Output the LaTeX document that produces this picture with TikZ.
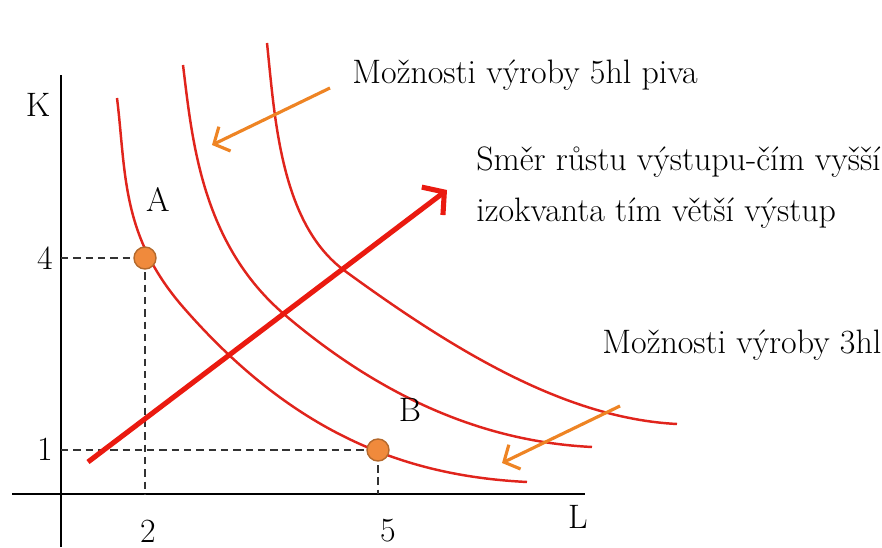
\documentclass[tikz,border=0pt]{standalone}
\usepackage{fontspec}
\usetikzlibrary{arrows.meta}
\definecolor{curvered}{HTML}{E0241C}
\definecolor{growred}{HTML}{EA1A10}
\definecolor{pointcol}{HTML}{EE8424}
\definecolor{dotfill}{HTML}{F08A3C}
\definecolor{dotedge}{HTML}{B4692C}

\begin{document}
\begin{tikzpicture}[x=1cm,y=1cm,
  every node/.style={inner sep=0pt,font=\fontsize{19.3}{29}\selectfont},
  isoquant/.style={curvered,line width=1.4pt},
  guide/.style={black!80,dash pattern=on 4.2pt off 2.8pt,line width=0.8pt},
  pointer/.style={pointcol,line width=1.8pt,-{Straight Barb[length=2.4mm,width=5.4mm]}},
  dot/.style={circle,minimum size=0.44cm,draw=dotedge,fill=dotfill,line width=0.8pt}]
\useasboundingbox (0,0) rectangle (17.64,10.94);

% axes
\coordinate (ytop) at (1.22,9.44);
\coordinate (ybot) at (1.22,0);
\coordinate (xleft) at (0.24,1.06);
\coordinate (xright) at (11.7,1.06);
\draw[line width=0.8pt] (ybot) -- (ytop);
\draw[line width=0.8pt] (xleft) -- (xright);
\node (klab) at (0.76,8.84) {K};
\node (llab) at (11.56,0.6) {L};

% ticks on the axes
\coordinate (k4) at (1.22,5.78);
\coordinate (k1) at (1.22,1.94);
\coordinate (l2) at (2.9,1.06);
\coordinate (l5) at (7.56,1.06);
\node (t4) at (0.9,5.78) {4};
\node (t1) at (0.9,1.96) {1};
\node (t2) at (2.96,0.32) {2};
\node (t5) at (7.76,0.32) {5};

% isoquants
\draw[isoquant] (2.34,8.98) .. controls (2.523,7.49) and (2.414,6.235) .. (3.66,4.8)
  .. controls (5.953,2.163) and (8.247,1.415) .. (10.54,1.3);
\draw[isoquant] (3.66,9.64) .. controls (3.843,8.151) and (4.024,6.066) .. (5.7,4.64)
  .. controls (7.747,2.9) and (9.793,2.1) .. (11.84,2.0);
\draw[isoquant] (5.34,10.08) .. controls (5.497,8.588) and (5.606,6.461) .. (6.9,5.52)
  .. controls (9.11,3.907) and (11.33,2.57) .. (13.54,2.46);

% points A and B
\draw[guide] (k4) -- (2.9,5.78) -- (l2);
\draw[guide] (k1) -- (7.56,1.94) -- (l5);
\node[dot] (pa) at (2.9,5.78) {};
\node[dot] (pb) at (7.56,1.94) {};
\node (alab) at (3.16,6.94) {A};
\node (blab) at (8.2,2.74) {B};

% direction of growth
\coordinate (gstart) at (1.76,1.7);
\coordinate (gend) at (8.94,7.14);
\draw[growred,line width=2.9pt,-{Straight Barb[length=3mm,width=7mm]}] (gstart) -- (gend);

% labels with pointers
\node[anchor=west] (five) at (7.04,9.44) {Možnosti výroby 5hl piva};
\node[anchor=west,align=left] (grow) at (9.52,7.19) {Směr růstu výstupu-čím vyšší\\izokvanta tím větší výstup};
\node[anchor=west] (three) at (12.04,4.04) {Možnosti výroby 3hl};
\coordinate (p5from) at (6.6,9.18);
\coordinate (p5to) at (4.24,8.04);
\coordinate (p3from) at (12.4,2.82);
\coordinate (p3to) at (10.04,1.68);
\draw[pointer] (p5from) -- (p5to);
\draw[pointer] (p3from) -- (p3to);
\end{tikzpicture}
\end{document}
